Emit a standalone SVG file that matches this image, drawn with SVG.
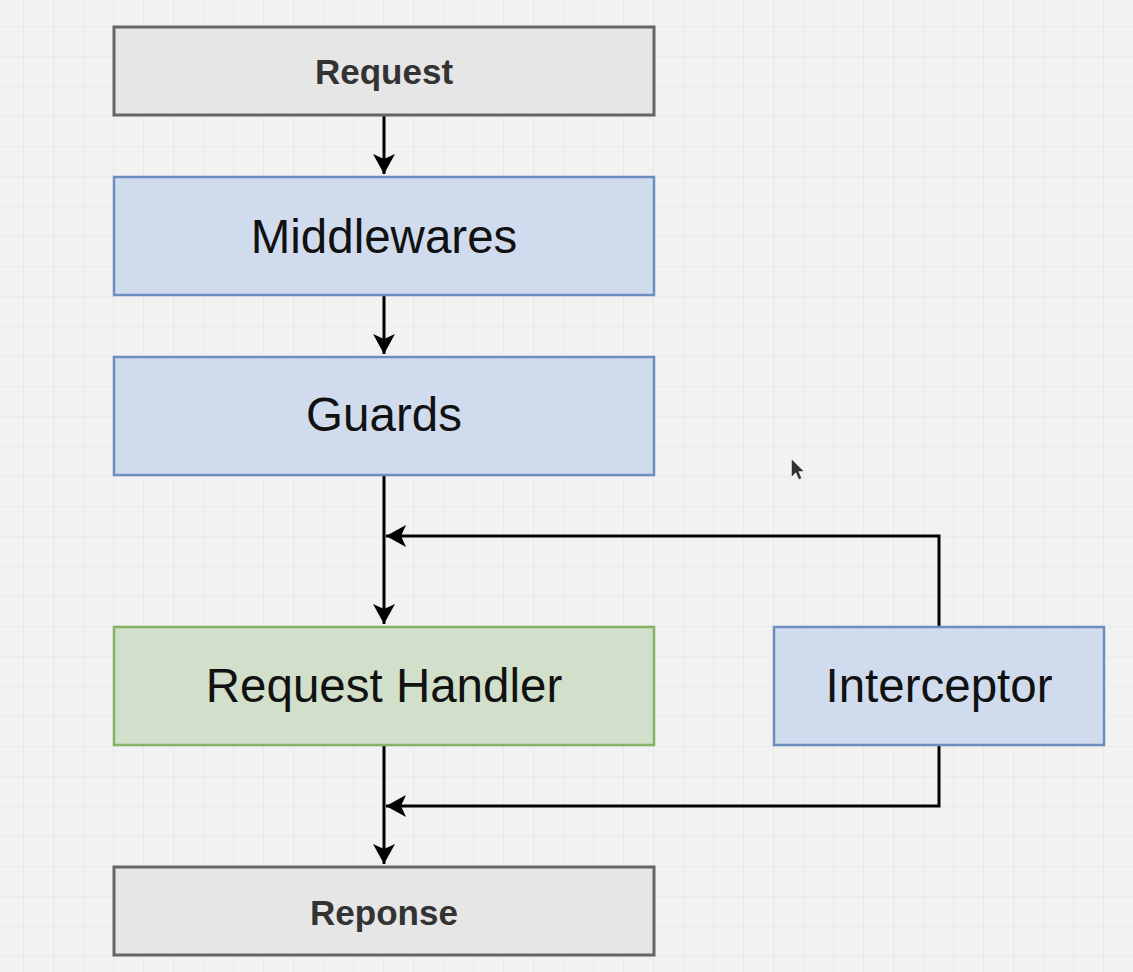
<svg xmlns="http://www.w3.org/2000/svg" width="1133" height="972" viewBox="0 0 1133 972">
<defs>
<pattern id="grid" x="23" y="26" width="30" height="30" patternUnits="userSpaceOnUse">
<path d="M0 0H30M0 0V30" fill="none" stroke="#e3e3e3" stroke-width="1.2"/>
</pattern>
<marker id="arr" markerUnits="userSpaceOnUse" markerWidth="24" markerHeight="24" refX="20" refY="12" orient="auto">
<path d="M0 1 L20 12 L0 23 L5 12 Z" fill="#000"/>
</marker>
</defs>
<style>
.grey{fill:#e6e6e6;stroke:#666;stroke-width:3}
.blue{fill:#d0dcee;stroke:#6c8ebf;stroke-width:2.5}
.green{fill:#d1dfcb;stroke:#82b366;stroke-width:2.5}
.lbl{font-family:"Liberation Sans",Arial,sans-serif;font-size:47.5px;fill:#111;text-anchor:middle}
.lblb{font-family:"Liberation Sans",Arial,sans-serif;font-size:35px;font-weight:bold;fill:#333;text-anchor:middle}
.conn{fill:none;stroke:#000;stroke-width:3;marker-end:url(#arr)}
</style>
<rect width="1133" height="972" fill="#f2f2f2"/>
<rect width="1133" height="972" fill="url(#grid)"/>
<g id="connectors">
<path class="conn" d="M384 116V174"/>
<path class="conn" d="M384 296V354"/>
<path class="conn" d="M384 476V624"/>
<path class="conn" d="M939 626V536H386"/>
<path class="conn" d="M384 746V864"/>
<path class="conn" d="M939 746V806H386"/>
</g>
<g id="request">
<rect class="grey" x="114" y="27" width="540" height="88"/>
<text class="lblb" x="384" y="84">Request</text>
</g>
<g id="middlewares">
<rect class="blue" x="114" y="177" width="540" height="118"/>
<text class="lbl" x="384" y="253">Middlewares</text>
</g>
<g id="guards">
<rect class="blue" x="114" y="357" width="540" height="118"/>
<text class="lbl" x="384" y="431">Guards</text>
</g>
<g id="handler">
<rect class="green" x="114" y="627" width="540" height="118"/>
<text class="lbl" x="384" y="702">Request Handler</text>
</g>
<g id="interceptor">
<rect class="blue" x="774" y="627" width="330" height="118"/>
<text class="lbl" x="939" y="702">Interceptor</text>
</g>
<g id="response">
<rect class="grey" x="114" y="867" width="540" height="88"/>
<text class="lblb" x="384" y="925">Reponse</text>
</g>
<path d="M792 460L792 476L796 472L799 479L801 478L798 471L803 471Z" fill="#111" stroke="#111" stroke-width="0.5" opacity="0.85"/>
</svg>
